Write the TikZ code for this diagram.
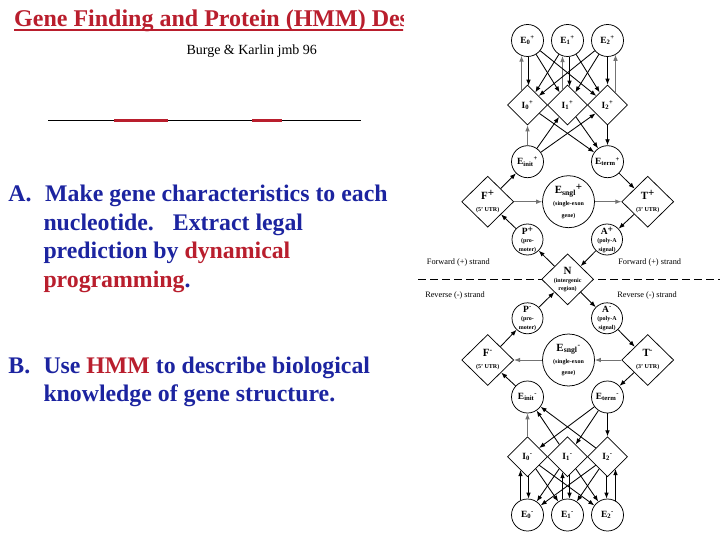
\documentclass[tikz,border=0pt]{standalone}
\usepackage{fontspec}
\setmainfont{Liberation Serif}
\usetikzlibrary{shapes.geometric,arrows.meta}
\definecolor{tred}{RGB}{185,30,45}
\definecolor{tblue}{RGB}{28,36,160}
\newcommand\mylab{\fontsize{9.5}{10}\selectfont\bfseries}
\newcommand\mysub{\fontsize{6}{7.5}\selectfont\bfseries}
\newcommand\mybig{\fontsize{11}{12}\selectfont\bfseries}
\begin{document}
\begin{tikzpicture}[x=1pt,y=-1pt,
  ec/.style={circle,draw,fill=white,inner sep=-4pt,minimum size=32pt,line width=0.75pt,font=\mylab},
  sc/.style={circle,draw,fill=white,inner sep=-6pt,minimum size=31pt,line width=0.75pt,align=center,font=\mysub},
  bc/.style={circle,draw,fill=white,inner sep=-6pt,minimum size=52pt,line width=0.75pt,align=center,font=\mysub},
  idia/.style={diamond,draw,fill=white,inner sep=-4pt,minimum width=40pt,minimum height=40pt,line width=0.75pt,font=\mylab},
  bdia/.style={diamond,draw,fill=white,inner sep=-6pt,minimum width=52pt,minimum height=51pt,line width=0.75pt,align=center,font=\mysub},
  arr/.style={-{Latex[length=6pt,width=4.6pt]},line width=0.85pt},
  garr/.style={arr,draw=black!55},
  body/.style={anchor=base west,inner sep=0pt,text=tblue,font=\fontsize{23.8}{28}\selectfont\bfseries},
  strand/.style={inner sep=0pt,font=\fontsize{8.3}{9}\selectfont}
]
\useasboundingbox (0,0) rectangle (720,540);
\fill[white] (0,0) rectangle (720,540);

% ---------- left side ----------
\begin{scope}
  \clip (0,0) rectangle (403,45);
  \node[anchor=base west,inner sep=0pt,text=tred,font=\fontsize{24}{28}\selectfont\bfseries] (title) at (14,26.7) {Gene Finding and Protein (HMM) Des};
  \draw[tred,line width=2pt] ([yshift=-3pt]title.base west) -- ([yshift=-3pt,xshift=20pt]title.base east);
\end{scope}
\node[anchor=base,inner sep=0pt,font=\fontsize{14}{16}\selectfont] (cite) at (251.7,54.3) {Burge \& Karlin jmb 96};

\coordinate (sl) at (48,120.3);
\coordinate (sr) at (360.7,120.3);
\coordinate (r1a) at (114.3,120.3);
\coordinate (r1b) at (167.7,120.3);
\coordinate (r2a) at (252.3,120.3);
\coordinate (r2b) at (281.7,120.3);
\draw[line width=1pt] (sl) -- (sr);
\draw[tred,line width=3pt] (r1a) -- (r1b);
\draw[tred,line width=3pt] (r2a) -- (r2b);

\node[body] (la) at (8.3,201.7) {A.};
\node[body] (l1) at (45,201.7) {Make gene characteristics to each};
\node[body] (l2) at (43.3,230.2) {nucleotide.\hspace{19pt}Extract legal};
\node[body] (l3) at (43.3,258.7) {prediction by \textcolor{tred}{dynamical}};
\node[body] (l4) at (43.3,287.2) {\textcolor{tred}{programming}.};
\node[body] (lb) at (8.3,373.3) {B.};
\node[body] (l5) at (43.3,373.3) {Use \textcolor{tred}{HMM} to describe biological};
\node[body] (l6) at (43.3,401.7) {knowledge of gene structure.};

% ---------- right side: dashed separator ----------
\coordinate (dl) at (418,279.3);
\coordinate (dr) at (720,279.3);
\draw[line width=0.9pt,dash pattern=on 8pt off 4pt] (dl) -- (dr);

% ---------- nodes ----------
\node[ec] (e0p) at (527.5,40.5) {E\textsubscript{0}\textsuperscript{+}};
\node[ec] (e1p) at (567.5,40.5) {E\textsubscript{1}\textsuperscript{+}};
\node[ec] (e2p) at (607.5,40.5) {E\textsubscript{2}\textsuperscript{+}};
\node[idia] (i0p) at (527.5,105) {I\textsubscript{0}\textsuperscript{+}};
\node[idia] (i1p) at (567.5,105) {I\textsubscript{1}\textsuperscript{+}};
\node[idia] (i2p) at (607.5,105) {I\textsubscript{2}\textsuperscript{+}};
\node[ec] (einitp) at (527.5,161.7) {E\textsubscript{init}\textsuperscript{+}};
\node[ec] (etermp) at (607.5,161.7) {E\textsubscript{term}\textsuperscript{+}};
\node[bdia] (fp) at (487.7,201.7) {{\mybig F\raisebox{3pt}{+}}\\[4.5pt](5' UTR)};
\node[bc] (esp) at (568.5,201.7) {{\mybig E\textsubscript{sngl}\raisebox{3pt}{+}}\\[3.5pt](single-exon\\[4pt]gene)};
\node[bdia] (tp) at (647.7,201.7) {{\mybig T\raisebox{3pt}{+}}\\[4.5pt](3' UTR)};
\node[sc] (pp) at (527.5,239.5) {{\mylab P\raisebox{2.5pt}{+}}\\[0.5pt](pro-\\[1pt]moter)};
\node[sc] (ap) at (607,239.5) {{\mylab A\raisebox{2.5pt}{+}}\\[0.5pt](poly-A\\[1pt]signal)};
\node[bdia] (n) at (567.6,279.3) {{\mybig N}\\[1pt](intergenic\\[0.2pt]region)};
\node[sc] (pm) at (527.5,318.3) {{\mylab P\textsuperscript{-}}\\[0.5pt](pro-\\[1pt]moter)};
\node[sc] (am) at (607,318.3) {{\mylab A\textsuperscript{-}}\\[0.5pt](poly-A\\[1pt]signal)};
\node[bdia] (fm) at (487.7,360) {{\mybig F\textsuperscript{-}}\\[4.5pt](5' UTR)};
\node[bc] (esm) at (568.5,360) {{\mybig E\textsubscript{sngl}\textsuperscript{-}}\\[3.5pt](single-exon\\[4pt]gene)};
\node[bdia] (tm) at (647.7,360) {{\mybig T\textsuperscript{-}}\\[4.5pt](3' UTR)};
\node[ec] (einitm) at (527.5,397) {E\textsubscript{init}\textsuperscript{-}};
\node[ec] (etermm) at (607.5,397) {E\textsubscript{term}\textsuperscript{-}};
\node[idia] (i0m) at (527.5,456.7) {I\textsubscript{0}\textsuperscript{-}};
\node[idia] (i1m) at (567.5,456.7) {I\textsubscript{1}\textsuperscript{-}};
\node[idia] (i2m) at (607.5,456.7) {I\textsubscript{2}\textsuperscript{-}};
\node[ec] (e0m) at (527.5,515) {E\textsubscript{0}\textsuperscript{-}};
\node[ec] (e1m) at (567.5,515) {E\textsubscript{1}\textsuperscript{-}};
\node[ec] (e2m) at (607.5,515) {E\textsubscript{2}\textsuperscript{-}};

\node[strand] (fwl) at (458.3,262.3) {Forward (+) strand};
\node[strand] (fwr) at (649.7,262.3) {Forward (+) strand};
\node[strand] (rvl) at (455,295.7) {Reverse (-) strand};
\node[strand] (rvr) at (647,295.7) {Reverse (-) strand};

% ---------- top module ----------
\draw[garr] ([xshift=-6pt,yshift=-6pt]i0p.north) -- ([xshift=-6pt,yshift=1.2pt]e0p.south);
\draw[arr]  ([xshift=1pt]e0p.south) -- ([xshift=1pt,yshift=-1pt]i0p.north);
\draw[garr] ([xshift=-5pt,yshift=-5pt]i1p.north) -- ([xshift=-5pt,yshift=0.8pt]e1p.south);
\draw[arr]  ([xshift=2pt,yshift=0.1pt]e1p.south) -- ([xshift=2pt,yshift=-2pt]i1p.north);
\draw[arr]  (e2p.south) -- (i2p.north);
\draw[garr] ([xshift=8pt,yshift=-8pt]i2p.north) -- ([xshift=8pt,yshift=2.1pt]e2p.south);
\draw[arr] (e0p) -- (i1p);
\draw[arr] (e0p) -- (i2p);
\draw[arr] (e1p) -- (i0p);
\draw[arr] (e1p) -- (i2p);
\draw[arr] (e2p) -- (i0p);
\draw[arr] (e2p) -- (i1p);
\draw[garr] (einitp) -- (i0p);
\draw[arr] (einitp) -- (i1p);
\draw[arr] (einitp) -- (i2p);
\draw[arr] (i0p) -- (etermp);
\draw[arr] (i1p) -- (etermp);
\draw[arr] (i2p) -- (etermp);

% ---------- middle ----------
\draw[arr] (fp) -- (einitp);
\draw[arr] (etermp) -- (tp);
\draw[garr] (fp) -- (esp);
\draw[garr] (esp) -- (tp);
\draw[arr] (pp) -- (fp);
\draw[arr] (tp) -- (ap);
\draw[arr] (n) -- (pp);
\draw[arr] (ap) -- (n);
\draw[arr] (pm) -- (n);
\draw[arr] (n) -- (am);
\draw[arr] (am) -- (tm);
\draw[garr] (tm) -- (esm);
\draw[garr] (esm) -- (fm);
\draw[arr] (fm) -- (pm);
\draw[arr] (tm) -- (etermm);
\draw[arr] (einitm) -- (fm);

% ---------- bottom module ----------
\draw[arr] (etermm) -- (i0m);
\draw[arr] (etermm) -- (i1m);
\draw[arr] (etermm) -- (i2m);
\draw[garr] (i0m) -- (einitm);
\draw[arr] (i1m) -- (einitm);
\draw[arr] (i2m) -- (einitm);
\draw[arr] ([xshift=-7pt,yshift=-1.6pt]e0m.north) -- ([xshift=-7pt,yshift=7pt]i0m.south);
\draw[arr] ([xshift=1pt,yshift=1pt]i0m.south) -- ([xshift=1pt]e0m.north);
\draw[arr] ([xshift=-5pt,yshift=-0.8pt]e1m.north) -- ([xshift=-5pt,yshift=5pt]i1m.south);
\draw[arr] ([xshift=2pt,yshift=2pt]i1m.south) -- ([xshift=2pt,yshift=-0.1pt]e1m.north);
\draw[arr] ([xshift=-1pt,yshift=1pt]i2m.south) -- ([xshift=-1pt]e2m.north);
\draw[arr] ([xshift=8pt,yshift=-2.1pt]e2m.north) -- ([xshift=8pt,yshift=8pt]i2m.south);
\draw[arr] (i0m) -- (e1m);
\draw[arr] (i0m) -- (e2m);
\draw[arr] (i1m) -- (e0m);
\draw[arr] (i1m) -- (e2m);
\draw[arr] (i2m) -- (e0m);
\draw[arr] (i2m) -- (e1m);
\end{tikzpicture}
\end{document}
